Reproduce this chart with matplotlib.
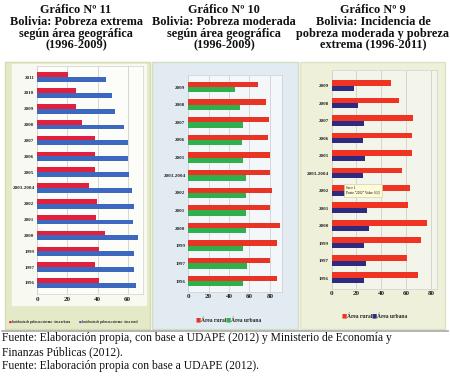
import numpy as np
import matplotlib
matplotlib.use("Agg")
import matplotlib.pyplot as plt
from matplotlib.patches import Rectangle

# ── data ──────────────────────────────────────────────────────────────────────
years_11 = ["2011", "2010", "2009", "2008", "2007", "2006", "2005",
            "2003-2004", "2002", "2001", "2000", "1999", "1997", "1996"]
urbana_11 = [20.7, 25.8, 25.8, 30.0, 38.0, 38.0, 38.4,
             34.4, 39.5, 39.0, 45.0, 41.0, 38.0, 41.0]
rural_11 = [45.3, 49.8, 51.8, 57.8, 60.4, 60.4, 61.0,
            63.0, 64.0, 63.5, 66.7, 64.0, 64.0, 65.3]

years_10 = ["2009", "2008", "2007", "2006", "2005", "2003-2004",
            "2002", "2001", "2000", "1999", "1997", "1996"]
rural_10 = [68.6, 76.0, 79.4, 78.4, 80.0, 80.0, 81.7, 80.0, 89.9, 86.6, 80.7, 87.3]
urbana_10 = [45.8, 50.7, 53.3, 52.3, 53.3, 56.2, 56.2, 56.5, 56.5, 53.9, 57.2, 53.9]

years_9 = years_10
moderada_9 = [47.5, 54.3, 65.8, 64.5, 65.0, 56.4, 63.5, 61.8, 77.0, 71.8, 61.0, 69.9]
extrema_9 = [18.3, 21.5, 26.3, 25.5, 26.8, 25.0, 26.8, 28.7, 30.3, 26.0, 27.4, 26.0]

titles = [
    "Gráfico Nº 11\nBolivia: Pobreza extrema\nsegún área geográfica\n(1996-2009)",
    "Gráfico Nº 10\nBolivia: Pobreza moderada\nsegún área geográfica\n(1996-2009)",
    "Gráfico Nº 9\nBolivia: Incidencia de\npobreza moderada y pobreza\nextrema (1996-2011)",
]
footer_lines = [
    "Fuente: Elaboración propia, con base a UDAPE (2012) y Ministerio de Economía y",
    "Finanzas Públicas (2012).",
    "Fuente: Elaboración propia con base a UDAPE (2012).",
]

W, H = 450, 386
SERIF = "Liberation Serif"

fig = plt.figure(figsize=(W / 100, H / 100), dpi=100)
fig.patch.set_facecolor("white")


def px_axes(x0, y0, x1, y1, **kw):
    """axes from pixel box (top-left origin)"""
    return fig.add_axes([x0 / W, 1 - y1 / H, (x1 - x0) / W, (y1 - y0) / H], **kw)


def panel(x0, y0, x1, y1, color, edge):
    fig.patches.append(Rectangle((x0 / W, 1 - y1 / H), (x1 - x0) / W, (y1 - y0) / H,
                                 transform=fig.transFigure, facecolor=color,
                                 edgecolor=edge, linewidth=1.0, zorder=-5))


def bar_chart(ax, labels, top_vals, bot_vals, c_top, c_bot, xmax, ticks, h_top, h_bot, ylim):
    y = np.arange(len(labels))
    ax.barh(y - h_top / 2, top_vals, height=h_top, color=c_top, zorder=3)
    ax.barh(y + h_bot / 2, bot_vals, height=h_bot, color=c_bot, zorder=3)
    ax.set_xlim(0, xmax)
    ax.set_ylim(*ylim)
    ax.set_xticks(ticks)
    ax.set_xticklabels([str(t) for t in ticks], fontsize=5, fontweight="bold",
                       family=SERIF, color="#222222")
    ax.set_yticks(y)
    ax.set_yticklabels(labels, fontsize=3.6, fontweight="bold", family=SERIF,
                       color="#222222")
    ax.tick_params(length=0, pad=2)
    ax.grid(axis="x", color="#c8c8c8", linewidth=0.5, zorder=0)
    for s in ax.spines.values():
        s.set_color("#d0d0d0")
        s.set_linewidth(0.5)


# ── panels ──
panel(5, 62, 150, 329, "#e4eac8", "#d6dcb0")
panel(152, 62, 298, 329, "#e2ebf2", "#cfe0c0")
panel(300, 62, 445, 329, "#eef0da", "#dde2c4")
# light plot background behind labels of chart 11
panel(12, 64, 146, 305, "#f8f9f0", "#f8f9f0")

# titles
for cx, t in zip([76, 224, 373], titles):
    fig.text(cx / W, 1 - 4 / H, t, ha="center", va="top", fontsize=8.8,
             fontweight="bold", family=SERIF, linespacing=0.98, color="#111111")

# chart 11
ax1 = px_axes(37.3, 66, 142.7, 294)
ax1.set_facecolor("#fcfcf9")
bar_chart(ax1, years_11, urbana_11, rural_11, "#e0203c", "#3c68c0",
          70, [0, 20, 40, 60], 0.3, 0.3, (13.7, -0.7))

# chart 10
ax2 = px_axes(188.3, 74.7, 282, 291.6)
ax2.set_facecolor("#f4f7fa")
bar_chart(ax2, years_10, rural_10, urbana_10, "#e83424", "#30b04c",
          92, [0, 20, 40, 60, 80], 0.3, 0.3, (11.6, -0.7))

# chart 9
ax3 = px_axes(331.7, 70, 437, 288.5)
ax3.set_facecolor("#f4f5ea")
bar_chart(ax3, years_9, moderada_9, extrema_9, "#f03424", "#2e2a80",
          85, [0, 20, 40, 60, 80], 0.32, 0.3, (11.6, -0.9))

# tooltip on chart 9
ax3.text(11.5, 6.0, "Serie 1\nPunto \"2002\" Valor: 63,5", fontsize=2.4,
         family=SERIF, va="center", ha="left", zorder=6, linespacing=1.4,
         bbox=dict(boxstyle="square,pad=0.6", facecolor="#fdfbd8",
                   edgecolor="#c8c8a0", linewidth=0.4))


# legends
def legend_row(x, cy, items, fs, gap):
    for label, color in items:
        fig.text(x / W, 1 - cy / H, "■", color=color, fontsize=fs, ha="left",
                 va="center")
        fig.text((x + fs * 1.3) / W, 1 - cy / H, label, color="#222222",
                 fontsize=fs, fontweight="bold", family=SERIF, ha="left", va="center")
        x += gap


legend_row(9, 322, [("Incidencia de pobreza extrema - área urbana", "#e0203c"),
                    ("Incidencia de pobreza extrema - área rural", "#3c68c0")], 2.2, 70)
legend_row(196, 320, [("Área rural", "#e83424"), ("Área urbana", "#30b04c")], 4.0, 30)
legend_row(342, 316, [("Área rural", "#f03424"), ("Área urbana", "#2e2a80")], 4.0, 30)

# bottom rule
fig.add_artist(plt.Line2D([2 / W, 448 / W], [1 - 331 / H, 1 - 331 / H],
                          color="#a8a8a8", linewidth=1.2, transform=fig.transFigure))

for yy, line in zip([338, 352, 366], footer_lines):
    fig.text(2 / W, 1 - yy / H, line, ha="left", va="center", fontsize=8.4,
             family=SERIF, color="#111111")

fig.savefig("out.png", dpi=100, facecolor="white")
